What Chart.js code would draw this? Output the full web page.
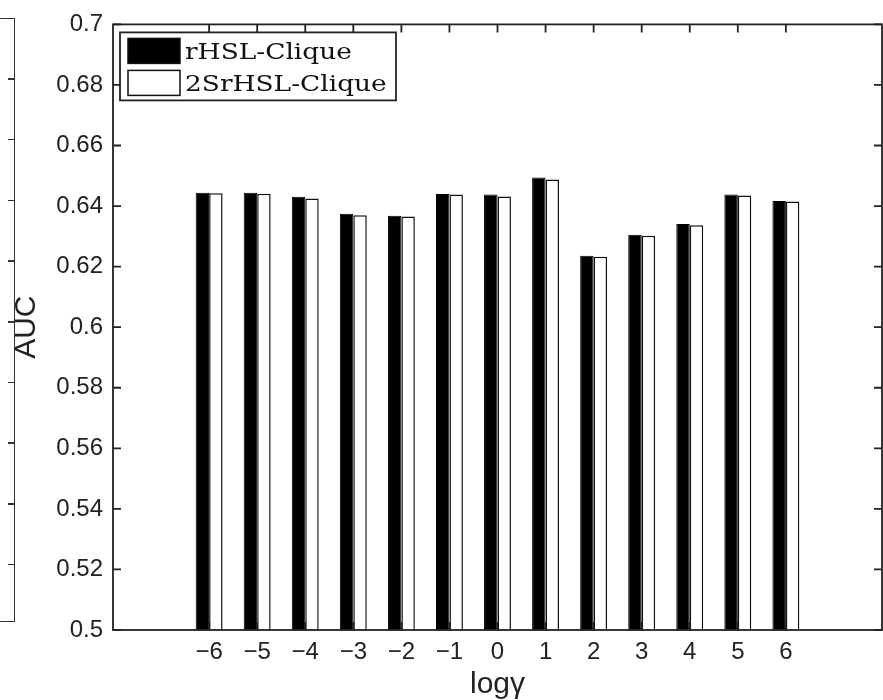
<!DOCTYPE html>
<html>
<head>
<meta charset="utf-8">
<script src="https://cdn.jsdelivr.net/npm/chart.js@4.4.1/dist/chart.umd.min.js"></script>
<style>
  html, body { margin: 0; padding: 0; background: #fff; }
  #wrap { position: relative; width: 883px; height: 700px; overflow: hidden; }
  /* edge of the neighbouring panel, cut off by the crop */
  #neighbour {
    position: absolute; left: -6px; top: 18px; width: 20px; height: 602px;
    border-top: 1.5px solid #333; border-bottom: 1.5px solid #333; border-right: 1.5px solid #333;
    background-image: repeating-linear-gradient(to bottom, transparent 0 59.2px, #333 59.2px 60.7px);
    background-size: 6px 100%; background-position: right top; background-repeat: no-repeat;
  }
  canvas { position: absolute; left: 0; top: 0; }
</style>
</head>
<body>
<div id="wrap">
  <div id="neighbour"></div>
  <canvas id="aucChart" width="883" height="700"></canvas>
</div>
<script>
// ======================================
// Data
// ======================================

const logGamma = [-6, -5, -4, -3, -2, -1, 0, 1, 2, 3, 4, 5, 6];
const rhslClique = [0.6444, 0.6444, 0.6431, 0.6375, 0.6368, 0.6440, 0.6438, 0.6494, 0.6236, 0.6305, 0.6341, 0.6438, 0.6417];
const srhslClique = [0.6442, 0.6441, 0.6425, 0.6370, 0.6366, 0.6438, 0.6432, 0.6488, 0.6233, 0.6302, 0.6337, 0.6435, 0.6415];
const seriesNames = ["rHSL-Clique", "2SrHSL-Clique"];

const xRange = [-8, 8];
const yRange = [0.5, 0.7];
const yStep = 0.02;

const SANS = "'Liberation Sans', Arial, sans-serif";
const SERIF = "'DejaVu Serif', serif";

// ======================================
// Plugins
// ======================================

// box round the plot with matlab-style inward ticks
const frameTicks = {
  id: "frameTicks",
  afterDatasetsDraw(chart) {
    const { ctx, chartArea, scales } = chart;
    const { left, right, top, bottom } = chartArea;
    const len = 8;
    ctx.save();
    ctx.strokeStyle = "#222";
    ctx.lineWidth = 1.8;
    ctx.strokeRect(left, top, right - left, bottom - top);
    ctx.beginPath();
    scales.x.ticks.forEach((t) => {
      if (!logGamma.includes(t.value)) return;
      const px = scales.x.getPixelForValue(t.value);
      ctx.moveTo(px, bottom);
      ctx.lineTo(px, bottom - len);
      ctx.moveTo(px, top);
      ctx.lineTo(px, top + len);
    });
    scales.y.ticks.forEach((t) => {
      const py = scales.y.getPixelForValue(t.value);
      ctx.moveTo(left, py);
      ctx.lineTo(left + len, py);
      ctx.moveTo(right, py);
      ctx.lineTo(right - len, py);
    });
    ctx.stroke();
    ctx.restore();
  },
};

// boxed legend in the top-left corner
const boxLegend = {
  id: "boxLegend",
  afterDraw(chart) {
    const { ctx, chartArea } = chart;
    const x0 = chartArea.left + 7;
    const y0 = chartArea.top + 8;
    const w = 276;
    const h = 68;
    ctx.save();
    ctx.fillStyle = "#fff";
    ctx.fillRect(x0, y0, w, h);
    ctx.strokeStyle = "#222";
    ctx.lineWidth = 1.8;
    ctx.strokeRect(x0, y0, w, h);

    chart.data.datasets.forEach((ds, i) => {
      const rowY = y0 + 6 + i * 32;
      ctx.fillStyle = ds.backgroundColor;
      ctx.fillRect(x0 + 8, rowY, 52, 25);
      ctx.strokeStyle = "#111";
      ctx.lineWidth = 1.5;
      ctx.strokeRect(x0 + 8, rowY, 52, 25);

      ctx.save();
      ctx.translate(x0 + 65, rowY + 21);
      ctx.scale(1.2, 1);
      ctx.fillStyle = "#111";
      ctx.font = "22px " + SERIF;
      ctx.textBaseline = "alphabetic";
      ctx.fillText(ds.label, 0, 0);
      ctx.restore();
    });
    ctx.restore();
  },
};

// ======================================
// Chart
// ======================================

function fmtTick(v) {
  if (!logGamma.includes(v)) return "";
  return v < 0 ? "\u2212" + Math.abs(v) : String(v);
}

new Chart(document.getElementById("aucChart"), {
  type: "bar",
  data: {
    datasets: [
      {
        label: seriesNames[0],
        data: logGamma.map((g, i) => ({ x: g, y: rhslClique[i] })),
        backgroundColor: "#000",
        borderColor: "#000",
        borderWidth: 1,
      },
      {
        label: seriesNames[1],
        data: logGamma.map((g, i) => ({ x: g, y: srhslClique[i] })),
        backgroundColor: "#fff",
        borderColor: "#111",
        borderWidth: 1.5,
      },
    ],
  },
  options: {
    responsive: false,
    animation: false,
    devicePixelRatio: 1,
    layout: { padding: { left: 0, right: 1, top: 23, bottom: 0 } },
    datasets: { bar: { categoryPercentage: 0.56, barPercentage: 1.0 } },
    plugins: { legend: { display: false }, tooltip: { enabled: false } },
    scales: {
      x: {
        type: "linear",
        min: xRange[0],
        max: xRange[1],
        offset: false,
        grid: { display: false, drawTicks: false },
        border: { display: false },
        ticks: {
          stepSize: 1,
          autoSkip: false,
          maxRotation: 0,
          padding: 8,
          color: "#222",
          font: { family: SANS, size: 24 },
          callback: fmtTick,
        },
        title: {
          display: true,
          text: "log\u03b3",
          color: "#222",
          font: { family: SANS, size: 30, lineHeight: 1 },
          padding: { top: 0, bottom: 0 },
        },
        afterFit(scale) {
          scale.height = 70;
          scale.paddingLeft = 0;
          scale.paddingRight = 0;
        },
      },
      y: {
        min: yRange[0],
        max: yRange[1],
        grid: { display: false, drawTicks: false },
        border: { display: false },
        ticks: {
          stepSize: yStep,
          padding: 10,
          color: "#222",
          font: { family: SANS, size: 24 },
          callback: (v) => String(+v.toFixed(2)),
        },
        title: {
          display: true,
          text: "AUC",
          color: "#222",
          font: { family: SANS, size: 30, lineHeight: 1 },
          padding: { top: 12, bottom: 0 },
        },
        afterFit(scale) { scale.width = 113; },
      },
    },
  },
  plugins: [frameTicks, boxLegend],
});
</script>
</body>
</html>
